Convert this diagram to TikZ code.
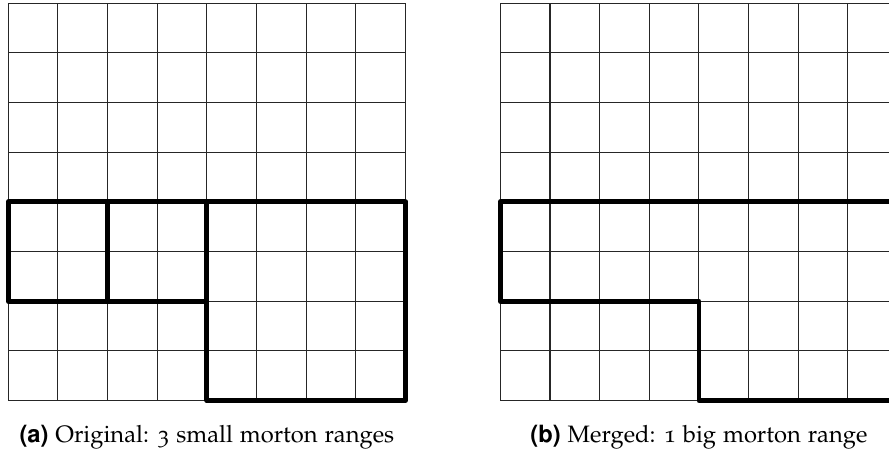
\documentclass[tikz,border=0pt]{standalone}
\usepackage[T1]{fontenc}
\usepackage[osf]{mathpazo}
\newcommand{\sublab}[1]{{\fontfamily{phv}\fontseries{b}\selectfont #1}}
\begin{document}
\begin{tikzpicture}[
  thingrid/.style={line width=0.6pt, black!85},
  mortonbox/.style={line width=2.8pt, black, line join=round},
  caplab/.style={anchor=base, font=\fontsize{13.6}{16}\selectfont, inner sep=0pt}
]
\useasboundingbox (-0.167,-1.038) rectangle (17.738,8.066);
% left grid
\draw[thingrid] (0,0) grid (8,8);
\draw[mortonbox] (0,2) rectangle (2,4);
\draw[mortonbox] (2,2) rectangle (4,4);
\draw[mortonbox] (4,0) rectangle (8,4);
% right grid
\begin{scope}[xshift=9.91cm]
\draw[thingrid] (0,0) grid (8,8);
\draw[mortonbox] (0,4) -- (8,4) -- (8,0) -- (4,0) -- (4,2) -- (0,2) -- cycle;
\end{scope}
\node[caplab] (capa) at (4.0,-0.856) {\sublab{(a)} Original: 3 small morton ranges};
\node[caplab] (capb) at (13.91,-0.856) {\sublab{(b)} Merged: 1 big morton range};
\end{tikzpicture}
\end{document}
